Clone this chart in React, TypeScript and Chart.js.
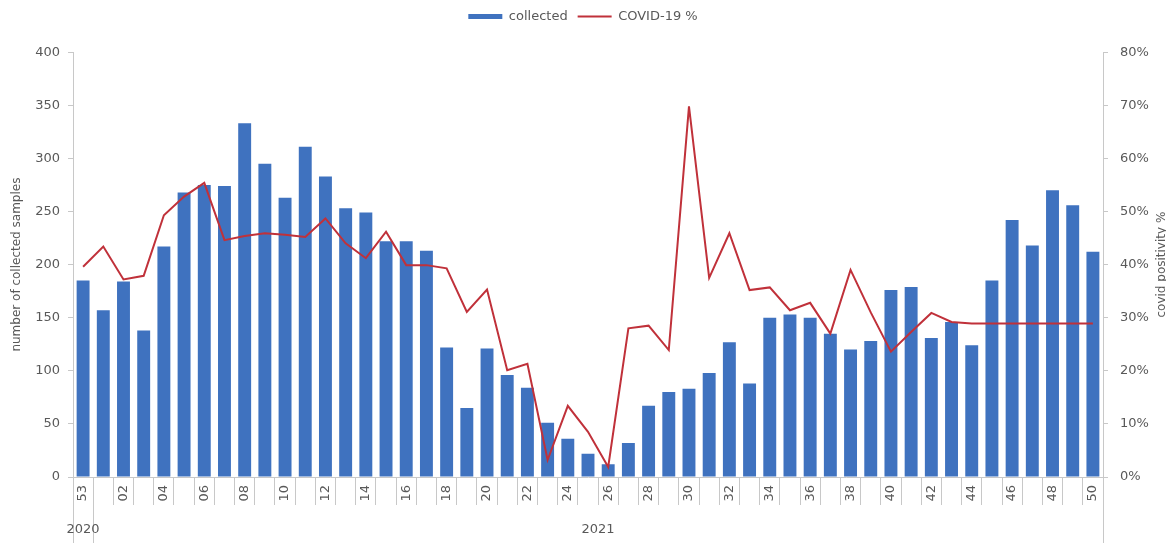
import React, { useEffect, useRef } from 'react';
import { Chart, registerables } from 'chart.js';

Chart.register(...registerables);

const weeks = ['53','01','02','03','04','05','06','07','08','09','10','11','12','13','14','15','16','17','18','19','20','21','22','23','24','25','26','27','28','29','30','31','32','33','34','35','36','37','38','39','40','41','42','43','44','45','46','47','48','49','50'];
const collected = [185,157,184,138,217,268,275,274,333,295,263,311,283,253,249,222,222,213,122,65,121,96,84,51,36,22,12,32,67,80,83,98,127,88,150,153,150,135,120,128,176,179,131,146,124,185,242,218,270,256,212];
const positivity = [39.6,43.4,37.2,37.9,49.3,52.8,55.4,44.6,45.4,45.9,45.6,45.2,48.7,44.0,41.2,46.2,39.9,39.9,39.3,31.1,35.3,20.1,21.3,3.2,13.4,8.5,1.9,28.0,28.5,23.9,69.8,37.5,45.9,35.2,35.7,31.4,32.8,27.0,39.0,31.0,23.6,27.3,30.9,29.2,28.9,28.9,28.9,28.9,28.9,28.9,28.9];
const yearLabels = ['2020', '2021'];
const yearStart = [0, 1];
const yearEnd = [0, 50];
const leftTitle = 'number of collected samples';
const rightTitle = 'covid positivity %';
const seriesNames = ['collected', 'COVID-19 %'];

const FONT = "'DejaVu Sans', sans-serif";
const GREY = '#595959';
const AXIS = '#c8c8c8';
const BLUE = '#3f72bf';
const RED = '#c0313a';

const yearPlugin = {
  id: 'yearAxis',
  afterDraw(chart: any) {
    const x = chart.scales.x;
    const { ctx, chartArea } = chart;
    const step = x.getPixelForValue(1) - x.getPixelForValue(0);
    ctx.save();
    ctx.strokeStyle = AXIS;
    ctx.lineWidth = 1;
    const bounds = new Set<number>();
    yearStart.forEach((s, i) => { bounds.add(s); bounds.add(yearEnd[i] + 1); });
    bounds.forEach((b) => {
      const px = Math.round(x.getPixelForValue(b) - step / 2) + 0.5;
      ctx.beginPath();
      ctx.moveTo(px, chartArea.bottom);
      ctx.lineTo(px, chart.height);
      ctx.stroke();
    });
    ctx.fillStyle = GREY;
    ctx.font = `13px ${FONT}`;
    ctx.textAlign = 'center';
    ctx.textBaseline = 'middle';
    yearLabels.forEach((lab, i) => {
      const cx = (x.getPixelForValue(yearStart[i]) + x.getPixelForValue(yearEnd[i])) / 2;
      ctx.fillText(lab, cx, chartArea.bottom + 53);
    });
    const y1 = chart.scales.y1;
    ctx.translate(y1.right - 4, (chartArea.top + chartArea.bottom) / 2);
    ctx.rotate(-Math.PI / 2);
    ctx.font = `12px ${FONT}`;
    ctx.fillText(rightTitle, 0, 0);
    ctx.restore();
  },
};

export default function App() {
  const ref = useRef<HTMLCanvasElement>(null);
  useEffect(() => {
    if (!ref.current) return;
    const chart = new Chart(ref.current, {
      type: 'bar',
      data: {
        labels: weeks,
        datasets: [
          {
            type: 'bar',
            label: seriesNames[0],
            data: collected,
            backgroundColor: BLUE,
            borderWidth: 0,
            barPercentage: 0.64,
            categoryPercentage: 1,
            yAxisID: 'y',
            order: 1,
          } as any,
          {
            type: 'line',
            label: seriesNames[1],
            data: positivity,
            borderColor: RED,
            backgroundColor: RED,
            borderWidth: 2,
            pointRadius: 0,
            tension: 0,
            yAxisID: 'y1',
            order: 0,
          } as any,
        ],
      },
      plugins: [yearPlugin],
      options: {
        animation: false,
        responsive: false,
        layout: { padding: 0 },
        plugins: {
          tooltip: { enabled: false },
          legend: {
            position: 'top',
            labels: {
              color: GREY,
              font: { family: FONT, size: 13 },
              usePointStyle: true,
              pointStyleWidth: 34,
              boxHeight: 5,
              padding: 10,
              generateLabels: (chart: any) => {
                const items = Chart.defaults.plugins.legend.labels.generateLabels(chart);
                items.sort((a: any, b: any) => a.datasetIndex - b.datasetIndex);
                items.forEach((it: any) => {
                  if (it.datasetIndex === 1) {
                    it.pointStyle = 'line';
                    it.strokeStyle = RED;
                    it.lineWidth = 2;
                  } else {
                    it.pointStyle = 'rect';
                    it.lineWidth = 0;
                  }
                });
                return items;
              },
            },
          },
          subtitle: {
            display: true,
            text: '',
            font: { size: 1 },
            padding: { top: 0, bottom: 18 },
            weight: 500,
          } as any,
        },
        scales: {
          x: {
            type: 'category',
            offset: true,
            grid: {
              offset: true,
              drawOnChartArea: false,
              drawTicks: true,
              tickLength: 28,
              color: AXIS,
            },
            border: { display: true, color: AXIS },
            ticks: {
              autoSkip: false,
              maxRotation: 90,
              minRotation: 90,
              padding: -20,
              color: GREY,
              font: { family: FONT, size: 13 },
              callback: (_v: any, i: number) => (i % 2 === 0 ? weeks[i] : ''),
            },
            afterFit: (s: any) => { s.height = 66; },
          },
          y: {
            position: 'left',
            min: 0,
            max: 400,
            ticks: {
              stepSize: 50,
              color: GREY,
              padding: 8,
              font: { family: FONT, size: 13 },
            },
            grid: { drawOnChartArea: false, drawTicks: true, tickLength: 5, color: AXIS },
            border: { display: true, color: AXIS },
            title: {
              display: true,
              text: leftTitle,
              color: GREY,
              font: { family: FONT, size: 12 },
              padding: { top: 10, bottom: 0 },
            },
            afterFit: (s: any) => { s.width = 73; },
          },
          y1: {
            position: 'right',
            min: 0,
            max: 80,
            ticks: {
              stepSize: 10,
              color: GREY,
              padding: 12,
              font: { family: FONT, size: 13 },
              callback: (v: any) => `${v}%`,
            },
            grid: { drawOnChartArea: false, drawTicks: true, tickLength: 5, color: AXIS },
            border: { display: true, color: AXIS },
            afterFit: (s: any) => { s.width = 63; },
          },
        },
      } as any,
    });
    return () => chart.destroy();
  }, []);
  return (
    <div style={{ position: 'absolute', left: 0, top: 0, width: 1166, height: 543, background: '#fff' }}>
      <canvas ref={ref} width={1166} height={543} style={{ display: 'block' }} />
    </div>
  );
}
